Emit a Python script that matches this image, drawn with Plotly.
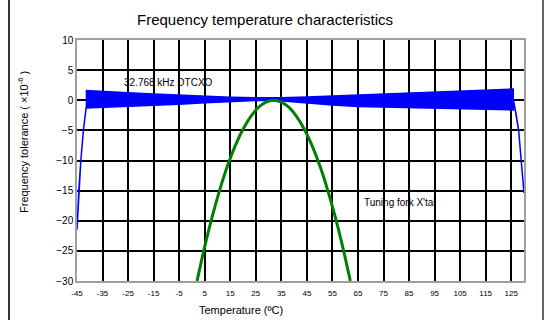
import plotly.graph_objects as go

# ---------------- data ----------------
# DTCXO band: temperatures with upper / lower envelope of the noisy trace
dtcxo_temp = [-41.3, -35, -25, -15, -5, 5, 15, 25, 32, 35, 45, 55, 65, 75, 85, 95, 105, 115, 125.8]
dtcxo_upper = [1.6, 1.5, 1.25, 1.05, 0.85, 0.65, 0.5, 0.4, 0.35, 0.4, 0.55, 0.7, 0.85, 1.0, 1.15, 1.35, 1.5, 1.7, 1.85]
dtcxo_lower = [-1.3, -1.2, -1.05, -0.85, -0.65, -0.4, -0.2, -0.05, 0.0, 0.0, -0.4, -0.8, -1.05, -1.15, -1.2, -1.3, -1.4, -1.5, -1.6]
# steep edges of the DTCXO curve at both ends
left_edge_temp = [-45.0, -44.3, -43.5, -42.5, -41.3]
left_edge_val = [-21.5, -15.0, -10.0, -5.0, -0.8]
right_edge_temp = [125.8, 127.0, 127.9, 128.9, 130.0]
right_edge_val = [0.2, -2.5, -5.0, -10.0, -15.4]

# Tuning fork crystal parabola
fork_temp = [2, 5, 8, 11, 14, 17, 20, 23, 26, 29, 32, 35, 38, 41, 44, 47, 50, 53, 56, 59, 62]
fork_val = [-30.0, -24.3, -19.2, -14.7, -10.8, -7.5, -4.8, -2.7, -1.2, -0.3, 0.0,
            -0.3, -1.2, -2.7, -4.8, -7.5, -10.8, -14.7, -19.2, -24.3, -30.0]

x_tick_vals = [-45, -35, -25, -15, -5, 5, 15, 25, 35, 45, 55, 65, 75, 85, 95, 105, 115, 125]
x_tick_text = [str(v) for v in x_tick_vals]
y_tick_vals = [-30, -25, -20, -15, -10, -5, 0, 5, 10]

FONT = "Liberation Sans, Arial, sans-serif"

# ---------------- build figure ----------------
fig = go.Figure()

# band polygon built from the envelope arrays
poly_x = left_edge_temp + dtcxo_temp + right_edge_temp + right_edge_temp[::-1] + dtcxo_temp[::-1] + left_edge_temp[::-1]
poly_y = left_edge_val + dtcxo_upper + right_edge_val + right_edge_val[::-1] + dtcxo_lower[::-1] + left_edge_val[::-1]
fig.add_trace(go.Scatter(
    x=poly_x, y=poly_y, mode="lines", fill="toself",
    fillcolor="#0000FF", line=dict(color="#0000FF", width=1.5),
    hoverinfo="skip", showlegend=False,
))

fig.add_trace(go.Scatter(
    x=fork_temp, y=fork_val, mode="lines",
    line=dict(color="#008000", width=3, shape="spline"),
    showlegend=False,
))

# the graph div is offset 10 px (8 px margin + 2 px left border = figure frame),
# so the figure is 545 px wide with a 67 px left margin -> plot area x 77..524
fig.update_layout(
    width=545, height=320,
    margin=dict(l=67, r=31, t=40, b=39),
    paper_bgcolor="white", plot_bgcolor="white",
    font=dict(family=FONT, color="black"),
    showlegend=False,
    title=dict(text="Frequency temperature characteristics", x=(265 - 10) / 545, xanchor="center",
               y=1 - 20 / 320, yanchor="middle", font=dict(size=15, family=FONT, color="black")),
)

fig.update_xaxes(
    range=[-45, 130], tickmode="array", tickvals=x_tick_vals, ticktext=x_tick_text,
    showgrid=True, gridcolor="black", gridwidth=1.6,
    showline=True, linecolor="#a0a0a0", linewidth=1.5, mirror=True,
    zeroline=False, ticks="", tickfont=dict(size=8, family=FONT), ticklabelstandoff=4,
)
fig.update_yaxes(
    range=[-30, 10], tickmode="array", tickvals=y_tick_vals,
    showgrid=True, gridcolor="black", gridwidth=1.6,
    showline=True, linecolor="#a0a0a0", linewidth=1.5, mirror=True,
    zeroline=True, zerolinecolor="black", zerolinewidth=1.6,
    ticks="", tickfont=dict(size=10, family=FONT),
)

# axis titles and labels
fig.add_annotation(text="Temperature (ºC)", xref="paper", yref="paper",
                   x=(241 - 77) / 447, y=-(310 - 281) / 241, showarrow=False,
                   font=dict(size=11, family=FONT), xanchor="center", yanchor="middle")
fig.add_annotation(text="Frequency tolerance ( ×10<sup>-6</sup> )", xref="paper", yref="paper",
                   x=(23 - 77) / 447, y=(281 - 142) / 241, textangle=-90, showarrow=False,
                   font=dict(size=11, family=FONT), xanchor="center", yanchor="middle")
fig.add_annotation(text="32.768 kHz DTCXO", x=-9.2, y=3.0, showarrow=False,
                   font=dict(size=10, family=FONT))
fig.add_annotation(text="Tuning fork X'tal", x=81.5, y=-16.9, showarrow=False,
                   font=dict(size=10, family=FONT))

# outer frame: right edge of the figure box
fig.add_shape(type="line", xref="paper", yref="paper",
              x0=(543 - 77) / 447, x1=(543 - 77) / 447, y0=-45 / 241, y1=1 + 45 / 241,
              layer="above", line=dict(color="#333333", width=1.5))

fig.write_html("out.html", config={"displayModeBar": False},
               post_script=("document.body.style.margin='0';"
                            "var gd=document.getElementsByClassName('plotly-graph-div')[0];"
                            "if(gd){gd.style.boxSizing='content-box';gd.style.marginLeft='8px';"
                            "gd.style.borderLeft='2px solid #333';gd.style.width='545px';}"))
